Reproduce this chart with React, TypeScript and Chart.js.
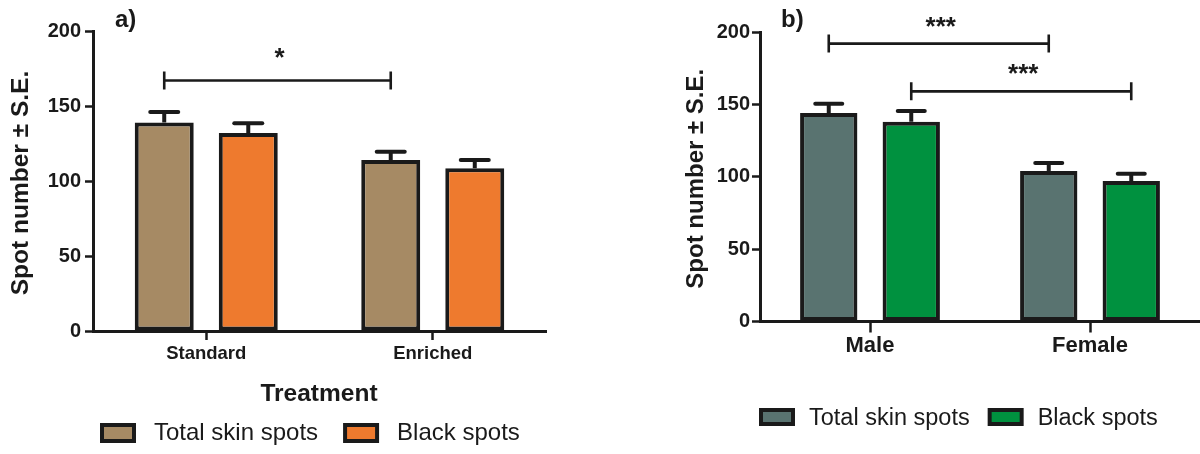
import React, { useEffect, useRef } from "react";
import { Chart, registerables } from "chart.js";

Chart.register(...registerables);

// ---------- DATA ----------
const treatmentCategories = ["Standard", "Enriched"];
const treatmentTotal = [139, 114];
const treatmentTotalSE = [7, 5.5];
const treatmentBlack = [132, 108.5];
const treatmentBlackSE = [6.5, 5.5];

const sexCategories = ["Male", "Female"];
const sexTotal = [144, 104];
const sexTotalSE = [6.5, 5.5];
const sexBlack = [138, 97];
const sexBlackSE = [7.5, 5];

const seriesLabels = ["Total skin spots", "Black spots"];
const yTickValues = [0, 50, 100, 150, 200];

// brackets: from/to = [categoryIndex, seriesIndex], value on the y scale, label
const treatmentBrackets = [{ from: [0, 0], to: [1, 0], value: 167, label: "*" }];
const sexBrackets = [
  { from: [0, 0], to: [1, 0], value: 192, label: "***" },
  { from: [0, 1], to: [1, 1], value: 159, label: "***" },
];

// ---------- STYLE ----------
const FONT = "'Liberation Sans', Arial, Helvetica, sans-serif";
const INK = "#1a1a1a";

const panelAStyle = {
  colors: ["#A68A64", "#EE7A2E"],
  panelLabel: "a)",
  panelLabelX: 115,
  panelLabelY: 26.5,
  yTitle: "Spot number \u00b1 S.E.",
  yTitleX: 28,
  yTitleSize: 24.5,
  xTitle: "Treatment",
  xTitleX: 319,
  xTitleY: 400.5,
  xTitleSize: 24.5,
  yAxisWidth: 93,
  padRight: 54,
  padTop: 31,
  xAxisHeight: 123,
  yTickLen: 8,
  yTickPad: 4,
  xTickLen: 9,
  xTickPad: 3,
  xTickSize: 18.5,
  catPct: 0.742,
  barPct: 0.702,
  capWidth: 32,
  bracketHalf: 9,
  starOffset: 15,
  legendX: 100,
  legendBoxY: 423,
  legendBoxW: 36,
  legendBoxH: 20,
  legendTextGap: 18,
  legendItemGap: 25,
  legendBaseline: 440,
  legendSize: 24,
};

const panelBStyle = {
  colors: ["#597370", "#00913F"],
  panelLabel: "b)",
  panelLabelX: 181,
  panelLabelY: 26.5,
  yTitle: "Spot number \u00b1 S.E.",
  yTitleX: 103,
  yTitleSize: 24,
  xTitle: null as string | null,
  xTitleX: 0,
  xTitleY: 0,
  xTitleSize: 24,
  yAxisWidth: 160,
  padRight: 0,
  padTop: 32,
  xAxisHeight: 132.5,
  yTickLen: 8,
  yTickPad: 2,
  xTickLen: 11,
  xTickPad: 0,
  xTickSize: 22,
  catPct: 0.75,
  barPct: 0.695,
  capWidth: 31,
  bracketHalf: 9,
  starOffset: 9,
  legendX: 759,
  legendBoxY: 408,
  legendBoxW: 36,
  legendBoxH: 18,
  legendTextGap: 14,
  legendItemGap: 18,
  legendBaseline: 425,
  legendSize: 23.5,
};

const annotationPlugin = {
  id: "panelAnnotations",
  afterDatasetsDraw(chart: any) {
    const s = chart.options.plugins.panelAnnotations.style;
    const brackets = chart.options.plugins.panelAnnotations.brackets;
    const ctx = chart.ctx;
    const yScale = chart.scales.y;
    ctx.save();
    ctx.strokeStyle = INK;
    // error bars (upper S.E.)
    chart.data.datasets.forEach((ds: any, di: number) => {
      const meta = chart.getDatasetMeta(di);
      meta.data.forEach((bar: any, i: number) => {
        const v = ds.data[i];
        const yTop = yScale.getPixelForValue(v);
        const yCap = yScale.getPixelForValue(v + ds.se[i]);
        ctx.lineWidth = 4;
        ctx.lineCap = "butt";
        ctx.beginPath();
        ctx.moveTo(bar.x, yTop);
        ctx.lineTo(bar.x, yCap);
        ctx.stroke();
        ctx.lineCap = "round";
        ctx.beginPath();
        ctx.moveTo(bar.x - s.capWidth / 2 + 2, yCap);
        ctx.lineTo(bar.x + s.capWidth / 2 - 2, yCap);
        ctx.stroke();
      });
    });
    // significance brackets
    brackets.forEach((b: any) => {
      const x1 = chart.getDatasetMeta(b.from[1]).data[b.from[0]].x;
      const x2 = chart.getDatasetMeta(b.to[1]).data[b.to[0]].x;
      const y = yScale.getPixelForValue(b.value);
      ctx.lineWidth = 2.6;
      ctx.lineCap = "butt";
      ctx.beginPath();
      ctx.moveTo(x1, y);
      ctx.lineTo(x2, y);
      ctx.moveTo(x1, y - s.bracketHalf);
      ctx.lineTo(x1, y + s.bracketHalf);
      ctx.moveTo(x2, y - s.bracketHalf);
      ctx.lineTo(x2, y + s.bracketHalf);
      ctx.stroke();
      ctx.fillStyle = INK;
      ctx.font = `bold 26px ${FONT}`;
      ctx.textAlign = "center";
      ctx.textBaseline = "alphabetic";
      ctx.fillText(b.label, (x1 + x2) / 2 + 2, y - s.starOffset);
    });
    ctx.restore();
  },
  afterDraw(chart: any) {
    const s = chart.options.plugins.panelAnnotations.style;
    const ctx = chart.ctx;
    const area = chart.chartArea;
    ctx.save();
    ctx.fillStyle = INK;
    // y title
    ctx.save();
    ctx.translate(s.yTitleX, (area.top + area.bottom) / 2 + 2);
    ctx.rotate(-Math.PI / 2);
    ctx.font = `bold ${s.yTitleSize}px ${FONT}`;
    ctx.textAlign = "center";
    ctx.textBaseline = "alphabetic";
    ctx.fillText(s.yTitle, 0, 0);
    ctx.restore();
    // panel label
    ctx.font = `bold 24px ${FONT}`;
    ctx.textAlign = "left";
    ctx.textBaseline = "alphabetic";
    ctx.fillText(s.panelLabel, s.panelLabelX, s.panelLabelY);
    // x title
    if (s.xTitle) {
      ctx.font = `bold ${s.xTitleSize}px ${FONT}`;
      ctx.textAlign = "center";
      ctx.fillText(s.xTitle, s.xTitleX, s.xTitleY);
    }
    // legend
    const canvasLeft = chart.canvas.offsetLeft || 0;
    let x = s.legendX - canvasLeft;
    ctx.font = `${s.legendSize}px ${FONT}`;
    ctx.textAlign = "left";
    chart.data.datasets.forEach((ds: any) => {
      ctx.fillStyle = INK;
      ctx.fillRect(x, s.legendBoxY, s.legendBoxW, s.legendBoxH);
      ctx.fillStyle = ds.backgroundColor;
      ctx.fillRect(x + 4, s.legendBoxY + 4, s.legendBoxW - 8, s.legendBoxH - 8);
      x += s.legendBoxW + s.legendTextGap;
      ctx.fillStyle = INK;
      ctx.fillText(ds.label, x, s.legendBaseline);
      x += ctx.measureText(ds.label).width + s.legendItemGap;
    });
    ctx.restore();
  },
};

function makeConfig(
  categories: string[],
  total: number[],
  totalSE: number[],
  black: number[],
  blackSE: number[],
  brackets: any[],
  s: any
): any {
  const mk = (label: string, data: number[], se: number[], color: string) => ({
    label,
    data,
    se,
    backgroundColor: color,
    borderColor: INK,
    borderWidth: 4,
    borderSkipped: false,
    categoryPercentage: s.catPct,
    barPercentage: s.barPct,
  });
  return {
    type: "bar",
    data: {
      labels: categories,
      datasets: [
        mk(seriesLabels[0], total, totalSE, s.colors[0]),
        mk(seriesLabels[1], black, blackSE, s.colors[1]),
      ],
    },
    plugins: [annotationPlugin],
    options: {
      responsive: false,
      animation: false,
      layout: { padding: { top: s.padTop, right: s.padRight, left: 0, bottom: 0 } },
      plugins: {
        legend: { display: false },
        tooltip: { enabled: false },
        panelAnnotations: { style: s, brackets },
      },
      scales: {
        x: {
          ticks: {
            color: INK,
            padding: s.xTickPad,
            font: { family: FONT, size: s.xTickSize, weight: "bold" },
          },
          grid: {
            offset: false,
            drawOnChartArea: false,
            drawTicks: true,
            tickLength: s.xTickLen,
            tickWidth: 2.5,
            tickColor: INK,
          },
          border: { display: true, color: INK, width: 3 },
          afterFit: (scale: any) => {
            scale.height = s.xAxisHeight;
          },
        },
        y: {
          min: yTickValues[0],
          max: yTickValues[yTickValues.length - 1],
          afterBuildTicks: (scale: any) => {
            scale.ticks = yTickValues.map((v) => ({ value: v }));
          },
          ticks: {
            color: INK,
            padding: s.yTickPad,
            font: { family: FONT, size: 20, weight: "bold" },
          },
          grid: {
            drawOnChartArea: false,
            drawTicks: true,
            tickLength: s.yTickLen,
            tickWidth: 2.5,
            tickColor: INK,
          },
          border: { display: true, color: INK, width: 3 },
          afterFit: (scale: any) => {
            scale.width = s.yAxisWidth;
          },
        },
      },
    },
  };
}

export default function App() {
  const refA = useRef<HTMLCanvasElement>(null);
  const refB = useRef<HTMLCanvasElement>(null);

  useEffect(() => {
    const a = new Chart(
      refA.current as HTMLCanvasElement,
      makeConfig(
        treatmentCategories,
        treatmentTotal,
        treatmentTotalSE,
        treatmentBlack,
        treatmentBlackSE,
        treatmentBrackets,
        panelAStyle
      )
    );
    const b = new Chart(
      refB.current as HTMLCanvasElement,
      makeConfig(sexCategories, sexTotal, sexTotalSE, sexBlack, sexBlackSE, sexBrackets, panelBStyle)
    );
    return () => {
      a.destroy();
      b.destroy();
    };
  }, []);

  return (
    <div style={{ position: "fixed", left: 0, top: 0, width: 1200, height: 454, background: "#fff" }}>
      <canvas
        ref={refA}
        width={600}
        height={454}
        style={{ position: "absolute", left: 0, top: 0, width: 600, height: 454 }}
      />
      <canvas
        ref={refB}
        width={600}
        height={454}
        style={{ position: "absolute", left: 600, top: 0, width: 600, height: 454 }}
      />
    </div>
  );
}
